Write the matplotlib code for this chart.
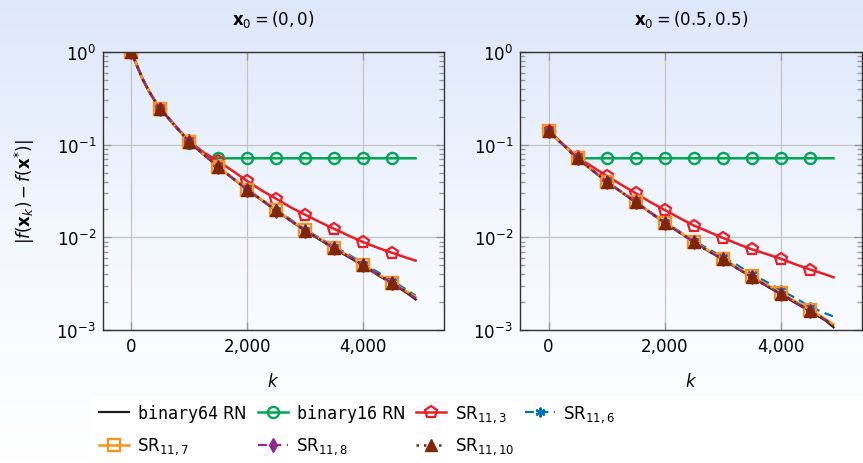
import numpy as np
import matplotlib
matplotlib.use('Agg')
from matplotlib import pyplot as plt
from matplotlib.colors import LinearSegmentedColormap
from matplotlib.patches import Rectangle
from matplotlib.ticker import FuncFormatter, LogLocator, NullFormatter

plt.rcParams['font.family'] = ['DejaVu Sans']
plt.rcParams['mathtext.fontset'] = 'dejavusans'
plt.rcParams['font.size'] = 12

K = [0, 100, 200, 300, 400, 500, 750, 1000, 1250, 1500, 1750, 2000, 2250, 2500,
     2750, 3000, 3250, 3500, 3750, 4000, 4250, 4500, 4750, 4900]

# ---- left panel, x0 = (0,0)
L_b64 = [1.0, 0.70, 0.50, 0.38, 0.30, 0.243, 0.160, 0.107, 0.078, 0.0575, 0.043, 0.0325,
         0.025, 0.0193, 0.0150, 0.0117, 0.0094, 0.0075, 0.0061, 0.0049, 0.0039, 0.00315,
         0.0025, 0.00214]
L_b16_k = [0, 100, 200, 300, 400, 500, 750, 1000, 1250, 1350, 1500, 2000, 2500, 3000,
           3500, 4000, 4500, 4900]
L_b16 = [1.0, 0.70, 0.50, 0.38, 0.30, 0.243, 0.160, 0.105, 0.078, 0.0713, 0.0713, 0.0713,
         0.0713, 0.0713, 0.0713, 0.0713, 0.0713, 0.0713]
L_sr3 = [1.0, 0.70, 0.50, 0.38, 0.30, 0.245, 0.162, 0.109, 0.082, 0.066, 0.052, 0.0403,
         0.032, 0.026, 0.021, 0.0175, 0.0146, 0.0123, 0.0104, 0.00885, 0.0077, 0.00679,
         0.0060, 0.00561]
L_sr6 = [1.0, 0.70, 0.50, 0.38, 0.30, 0.243, 0.160, 0.107, 0.078, 0.0578, 0.0435, 0.0330,
         0.0255, 0.0198, 0.0155, 0.0121, 0.0098, 0.0079, 0.0065, 0.0052, 0.0042, 0.0034,
         0.0027, 0.00235]
L_sr7 = [1.0, 0.70, 0.50, 0.38, 0.30, 0.243, 0.160, 0.107, 0.078, 0.0577, 0.0433, 0.0328,
         0.0253, 0.0196, 0.0152, 0.0119, 0.0096, 0.0077, 0.0063, 0.0050, 0.0040, 0.00325,
         0.0026, 0.00227]
L_sr8 = [1.0, 0.70, 0.50, 0.38, 0.30, 0.243, 0.160, 0.107, 0.078, 0.0576, 0.0431, 0.0326,
         0.0251, 0.0194, 0.0151, 0.0118, 0.0095, 0.0076, 0.0062, 0.0050, 0.0040, 0.0032,
         0.00255, 0.0022]
L_sr10 = [1.0, 0.70, 0.50, 0.38, 0.30, 0.243, 0.160, 0.107, 0.078, 0.0576, 0.0432, 0.0327,
          0.0252, 0.0195, 0.0151, 0.0118, 0.0095, 0.0076, 0.0062, 0.0050, 0.0040, 0.0032,
          0.00257, 0.0022]

# ---- right panel, x0 = (0.5,0.5)
R_b64 = [0.1416, 0.123, 0.107, 0.0935, 0.0814, 0.0713, 0.053, 0.0399, 0.0309, 0.0239,
         0.0185, 0.0143, 0.0113, 0.00885, 0.0071, 0.00575, 0.0046, 0.0037, 0.00298,
         0.00241, 0.00195, 0.00158, 0.00128, 0.00107]
R_b16_k = [0, 100, 200, 300, 400, 500, 1000, 1500, 2000, 2500, 3000, 3500, 4000, 4500, 4900]
R_b16 = [0.1416, 0.123, 0.107, 0.0935, 0.0814, 0.0713, 0.0713, 0.0713, 0.0713, 0.0713,
         0.0713, 0.0713, 0.0713, 0.0713, 0.0713]
R_sr3 = [0.1416, 0.124, 0.108, 0.095, 0.083, 0.073, 0.058, 0.046, 0.037, 0.0299, 0.024,
         0.0197, 0.0162, 0.0134, 0.0115, 0.00986, 0.0085, 0.0074, 0.0066, 0.00585, 0.0051,
         0.00449, 0.0040, 0.0037]
R_sr6 = [0.1416, 0.123, 0.107, 0.0935, 0.0814, 0.0713, 0.0531, 0.0401, 0.0311, 0.0242,
         0.0188, 0.0146, 0.0116, 0.0092, 0.0075, 0.0061, 0.0050, 0.0040, 0.0033,
         0.0027, 0.0022, 0.00178, 0.00152, 0.0014]
R_sr7 = [0.1416, 0.123, 0.107, 0.0935, 0.0814, 0.0713, 0.0530, 0.0400, 0.0310, 0.0240,
         0.0186, 0.0144, 0.0114, 0.0090, 0.0072, 0.0059, 0.0047, 0.0038, 0.0031,
         0.0025, 0.00203, 0.00165, 0.00133, 0.00115]
R_sr8 = [0.1416, 0.123, 0.107, 0.0935, 0.0814, 0.0713, 0.0530, 0.0399, 0.0309, 0.0239,
         0.0185, 0.0143, 0.0113, 0.0089, 0.0071, 0.0058, 0.0046, 0.0037, 0.0030,
         0.00244, 0.00198, 0.0016, 0.0013, 0.0011]
R_sr10 = [0.1416, 0.123, 0.107, 0.0935, 0.0814, 0.0713, 0.0530, 0.0399, 0.0309, 0.0239,
          0.0185, 0.0143, 0.0113, 0.0089, 0.0071, 0.0058, 0.0046, 0.0037, 0.0030,
          0.00244, 0.00198, 0.0016, 0.0013, 0.0011]

titles = [r'$\mathbf{x}_0 = (0, 0)$', r'$\mathbf{x}_0 = (0.5, 0.5)$']
xticks = [0, 2000, 4000]

labels = [r'$\mathtt{binary64}$ RN', r'$\mathtt{binary16}$ RN', r'SR$_{11,3}$', r'SR$_{11,6}$',
          r'SR$_{11,7}$', r'SR$_{11,8}$', r'SR$_{11,10}$']
styles = [
    dict(color='#231f20', ls='-', lw=1.6),
    dict(color='#00a651', ls='-', lw=1.8, marker='o', ms=8, mfc='none', mew=1.7),
    dict(color='#ed1c24', ls='-', lw=1.8, marker='p', ms=9, mfc='none', mew=1.6),
    dict(color='#0072bd', ls=(0, (4, 2.5)), lw=1.6, marker=(6, 2, 0), ms=7, mew=1.6),
    dict(color='#f7941d', ls='-', lw=1.8, marker='s', ms=9, mfc='none', mew=1.7),
    dict(color='#92278f', ls=(0, (4, 2.5)), lw=1.6, marker='d', ms=7),
    dict(color='#7f2704', ls=(0, (1, 2)), lw=1.8, marker='^', ms=8),
]

fig = plt.figure(figsize=(8.63, 4.64), dpi=100)

# vertical gradient background
bg = fig.add_axes([0, 0, 1, 1], zorder=-5)
grad = np.linspace(0, 1, 256).reshape(-1, 1)
cmap = LinearSegmentedColormap.from_list('bg', ['#dde7fb', '#f3f7fe', '#ffffff'])
bg.imshow(grad, aspect='auto', cmap=cmap, extent=[0, 1, 0, 1])
bg.axis('off')
# white box behind the legend
bg.add_patch(Rectangle((92/863, 0), 1, 67/464, transform=bg.transAxes,
                       facecolor='white', edgecolor='none'))

ax_l = fig.add_axes([103/863, 133/464, 341/863, 278/464])
ax_r = fig.add_axes([520/863, 133/464, 342/863, 278/464])

panels = [
    (ax_l, [(K, L_b64), (L_b16_k, L_b16), (K, L_sr3), (K, L_sr6), (K, L_sr7), (K, L_sr8), (K, L_sr10)]),
    (ax_r, [(K, R_b64), (R_b16_k, R_b16), (K, R_sr3), (K, R_sr6), (K, R_sr7), (K, R_sr8), (K, R_sr10)]),
]

handles = []
for p, (ax, series) in enumerate(panels):
    ax.set_facecolor('none')
    for i, (kk, vv) in enumerate(series):
        marks = [j for j, k in enumerate(kk) if k % 500 == 0 and k <= 4500]
        h, = ax.plot(kk, vv, label=labels[i], markevery=marks, **styles[i])
        if p == 0:
            handles.append(h)
    ax.set_yscale('log')
    ax.set_ylim(1e-3, 1e0)
    ax.set_xlim(-490, 5390)
    ax.set_xticks(xticks)
    ax.xaxis.set_major_formatter(FuncFormatter(lambda v, pos: f'{int(v):,}'))
    ax.yaxis.set_minor_locator(LogLocator(base=10, subs=np.arange(2, 10)))
    ax.yaxis.set_minor_formatter(NullFormatter())
    ax.grid(True, which='major', color='#c4c4c4', lw=0.9)
    ax.tick_params(which='both', direction='in', top=True, right=True, color='#9a9a9a',
                   labelsize=12, pad=5)
    ax.tick_params(which='major', length=6, width=1)
    ax.tick_params(which='minor', length=3.5, width=1)
    for s in ax.spines.values():
        s.set_color('#333333')
        s.set_linewidth(1.0)
    ax.set_title(titles[p], fontsize=12, pad=20)
    ax.set_xlabel(r'$k$', fontsize=12, labelpad=12)

ax_l.set_ylabel(r'$|f(\mathbf{x}_k) - f(\mathbf{x}^{*})|$', fontsize=12, labelpad=14)

# matplotlib fills legend column by column; reorder to get row-wise order
order = [0, 4, 1, 5, 2, 6, 3]
leg = fig.legend([handles[i] for i in order], [labels[i] for i in order],
                 loc='lower left', bbox_to_anchor=(92/863, 0), ncol=4, fontsize=12,
                 frameon=False, borderaxespad=0, handlelength=1.8, handletextpad=0.5,
                 columnspacing=0.65, labelspacing=0.7, borderpad=0.4)

fig.savefig('out.png', dpi=100)
